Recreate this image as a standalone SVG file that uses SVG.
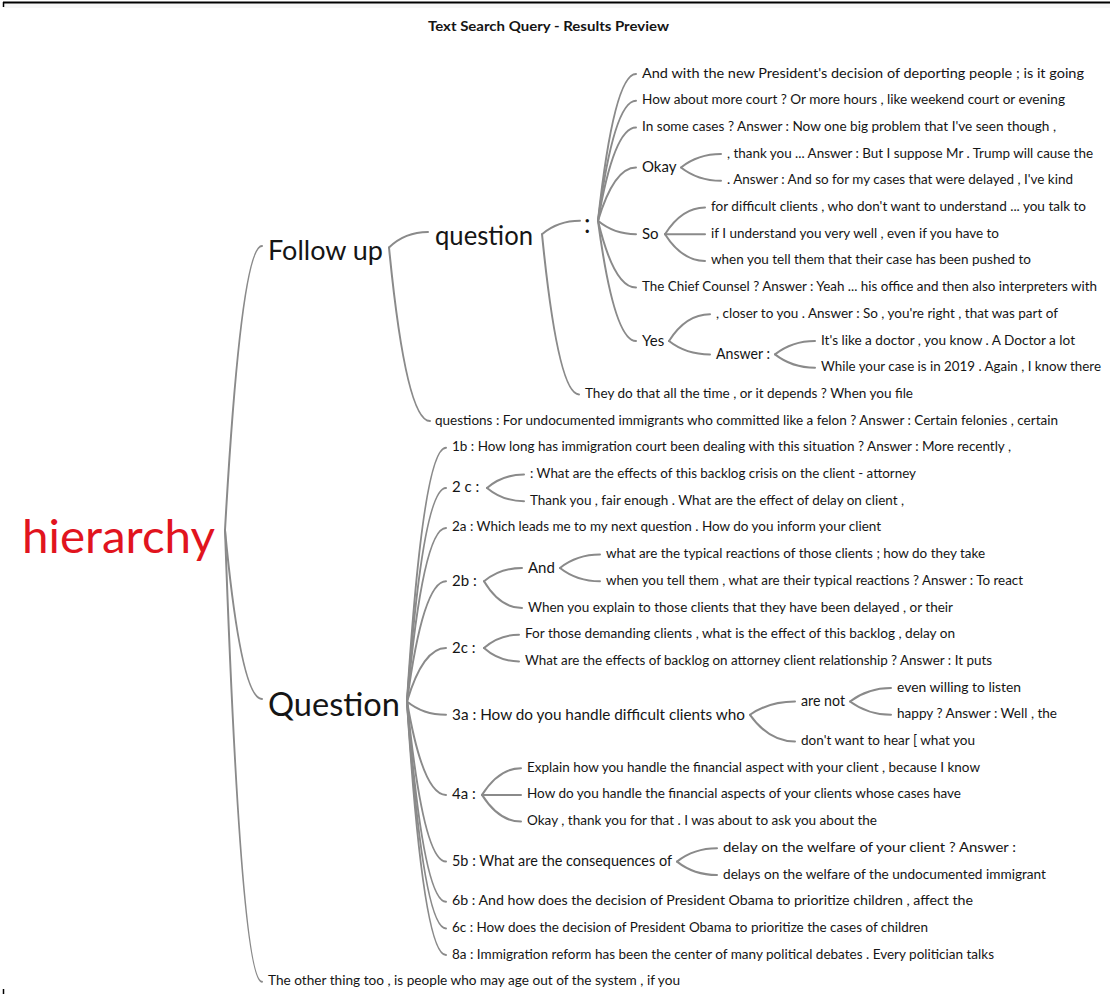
<svg xmlns="http://www.w3.org/2000/svg" width="1110" height="994" viewBox="0 0 1110 994">
<style>
  .c { fill: none; stroke: #8a8a8a; stroke-width: 2; stroke-linecap: round; }
  text { font-family: Lato, "Open Sans", "Noto Sans", sans-serif; fill: #151515; }
  .s { font-size: 13.5px; }
  .m { font-size: 15px; }
  .title { font-size: 13.5px; font-weight: bold; }
  .root { font-size: 46px; fill: #e1141e; }
  .h1 { font-size: 32px; }
  .h2 { font-size: 26px; }
  .h3 { font-size: 27px; }
</style>

<!-- frame -->
<rect x="3" y="3" width="1107" height="5" fill="#f7f7f7"/>
<line x1="3" y1="2.5" x2="1110" y2="2.5" stroke="#000" stroke-width="2"/>
<line x1="3.5" y1="2" x2="3.5" y2="7" stroke="#000" stroke-width="1.5"/>
<line x1="3.5" y1="989" x2="3.5" y2="994" stroke="#000" stroke-width="1.5"/>

<text class="title" x="548.5" y="31" text-anchor="middle" textLength="241" lengthAdjust="spacingAndGlyphs">Text Search Query - Results Preview</text>

<g id="connectors">
  <!-- root -->
  <path class="c" d="M225,530 Q241,246 262,246"/>
  <path class="c" d="M225,530 Q241,699 262,699"/>
  <path class="c" d="M225,530 Q241,981.8 262,981.8"/>
  <!-- Follow up -->
  <path class="c" d="M389,247.5 Q405,232 428,232"/>
  <path class="c" d="M389,247.5 Q406,421.1 430,421.1"/>
  <!-- question -->
  <path class="c" d="M542,234.2 Q558,220.8 580,220.8"/>
  <path class="c" d="M542,234.2 Q558,394.4 579,394.4"/>
  <!-- colon fan -->
  <path class="c" d="M598,220.8 Q614,74 636,74"/>
  <path class="c" d="M598,220.8 Q614,100.7 636,100.7"/>
  <path class="c" d="M598,220.8 Q614,127.4 636,127.4"/>
  <path class="c" d="M598,220.8 Q614,167.5 636,167.5"/>
  <path class="c" d="M598,220.8 Q614,234.2 636,234.2"/>
  <path class="c" d="M598,220.8 Q614,287.6 636,287.6"/>
  <path class="c" d="M598,220.8 Q614,341 636,341"/>
  <!-- Okay -->
  <path class="c" d="M681,167.5 Q698,154.1 721,154.1"/>
  <path class="c" d="M681,167.5 Q698,180.8 721,180.8"/>
  <!-- So -->
  <path class="c" d="M665,234.2 Q682,207.5 705,207.5"/>
  <path class="c" d="M665,234.2 Q682,234.2 705,234.2"/>
  <path class="c" d="M665,234.2 Q682,260.9 705,260.9"/>
  <!-- Yes -->
  <path class="c" d="M669,341 Q686,314.3 710,314.3"/>
  <path class="c" d="M669,341 Q686,354.4 710,354.4"/>
  <!-- Answer : -->
  <path class="c" d="M775,354.4 Q792,341 815,341"/>
  <path class="c" d="M775,354.4 Q792,367.7 815,367.7"/>
  <!-- Question fan -->
  <path class="c" d="M407,701.5 Q423,447.8 446,447.8"/>
  <path class="c" d="M407,701.5 Q423,487.9 446,487.9"/>
  <path class="c" d="M407,701.5 Q423,527.9 446,527.9"/>
  <path class="c" d="M407,701.5 Q423,581.3 446,581.3"/>
  <path class="c" d="M407,701.5 Q423,648 446,648"/>
  <path class="c" d="M407,701.5 Q423,714.8 446,714.8"/>
  <path class="c" d="M407,701.5 Q423,794.9 446,794.9"/>
  <path class="c" d="M407,701.5 Q423,861.6 446,861.6"/>
  <path class="c" d="M407,701.5 Q423,901.7 446,901.7"/>
  <path class="c" d="M407,701.5 Q423,928.4 446,928.4"/>
  <path class="c" d="M407,701.5 Q423,955.1 446,955.1"/>
  <!-- 2 c : -->
  <path class="c" d="M487,487.9 Q503,474.5 524,474.5"/>
  <path class="c" d="M487,487.9 Q503,501.2 524,501.2"/>
  <!-- 2b : -->
  <path class="c" d="M484,581.3 Q500,568 522,568"/>
  <path class="c" d="M484,581.3 Q500,608 522,608"/>
  <!-- And -->
  <path class="c" d="M560,568 Q577,554.6 600,554.6"/>
  <path class="c" d="M560,568 Q577,581.3 600,581.3"/>
  <!-- 2c : -->
  <path class="c" d="M484,648 Q499,634.7 519,634.7"/>
  <path class="c" d="M484,648 Q499,661.4 519,661.4"/>
  <!-- 3a -->
  <path class="c" d="M750,714.8 Q769,701.5 795,701.5"/>
  <path class="c" d="M750,714.8 Q769,741.5 795,741.5"/>
  <!-- are not -->
  <path class="c" d="M850,701.5 Q868,688.1 891,688.1"/>
  <path class="c" d="M850,701.5 Q868,714.8 891,714.8"/>
  <!-- 4a : -->
  <path class="c" d="M482,794.9 Q499,768.2 521,768.2"/>
  <path class="c" d="M482,794.9 Q499,794.9 521,794.9"/>
  <path class="c" d="M482,794.9 Q499,821.6 521,821.6"/>
  <!-- 5b -->
  <path class="c" d="M677,861.6 Q694,848.3 717,848.3"/>
  <path class="c" d="M677,861.6 Q694,875 717,875"/>
</g>

<g id="n-root"><text class="root" x="22" y="553" textLength="193" lengthAdjust="spacingAndGlyphs">hierarchy</text></g>

<g id="n-followup"><text class="h2" x="268" y="259.5" textLength="115" lengthAdjust="spacingAndGlyphs">Follow up</text></g>
<g id="n-question-lower"><text class="h3" x="435" y="245" textLength="98" lengthAdjust="spacingAndGlyphs">question</text></g>
<g id="n-colon"><text class="h2" x="584" y="233">:</text></g>

<g id="n-r0"><text class="s" x="642" y="77.5" textLength="442" lengthAdjust="spacingAndGlyphs">And with the new President's decision of deporting people ; is it going</text></g>
<g id="n-r1"><text class="s" x="642" y="104.2" textLength="423" lengthAdjust="spacingAndGlyphs">How about more court ? Or more hours , like weekend court or evening</text></g>
<g id="n-r2"><text class="s" x="642" y="130.9" textLength="414" lengthAdjust="spacingAndGlyphs">In some cases ? Answer : Now one big problem that I've seen though ,</text></g>
<g id="n-okay"><text class="m" x="642" y="172">Okay</text></g>
<g id="n-r3"><text class="s" x="727" y="157.6" textLength="366" lengthAdjust="spacingAndGlyphs">, thank you ... Answer : But I suppose Mr . Trump will cause the</text></g>
<g id="n-r4"><text class="s" x="727" y="184.3" textLength="346" lengthAdjust="spacingAndGlyphs">. Answer : And so for my cases that were delayed , I've kind</text></g>
<g id="n-so"><text class="m" x="642" y="238.7">So</text></g>
<g id="n-r5"><text class="s" x="711" y="211" textLength="375" lengthAdjust="spacingAndGlyphs">for difficult clients , who don't want to understand ... you talk to</text></g>
<g id="n-r6"><text class="s" x="711" y="237.7" textLength="288" lengthAdjust="spacingAndGlyphs">if I understand you very well , even if you have to</text></g>
<g id="n-r7"><text class="s" x="711" y="264.4" textLength="320" lengthAdjust="spacingAndGlyphs">when you tell them that their case has been pushed to</text></g>
<g id="n-r8"><text class="s" x="642" y="291.1" textLength="455" lengthAdjust="spacingAndGlyphs">The Chief Counsel ? Answer : Yeah ... his office and then also interpreters with</text></g>
<g id="n-yes"><text class="m" x="642" y="345.5">Yes</text></g>
<g id="n-r9"><text class="s" x="716" y="317.8" textLength="342" lengthAdjust="spacingAndGlyphs">, closer to you . Answer : So , you're right , that was part of</text></g>
<g id="n-answer"><text class="m" x="716" y="358.9" textLength="54" lengthAdjust="spacingAndGlyphs">Answer :</text></g>
<g id="n-r10"><text class="s" x="821" y="344.5" textLength="254" lengthAdjust="spacingAndGlyphs">It's like a doctor , you know . A Doctor a lot</text></g>
<g id="n-r11"><text class="s" x="821" y="371.2" textLength="280" lengthAdjust="spacingAndGlyphs">While your case is in 2019 . Again , I know there</text></g>
<g id="n-r12"><text class="s" x="585" y="397.9" textLength="328" lengthAdjust="spacingAndGlyphs">They do that all the time , or it depends ? When you file</text></g>
<g id="n-r13"><text class="s" x="435" y="424.6" textLength="623" lengthAdjust="spacingAndGlyphs">questions : For undocumented immigrants who committed like a felon ? Answer : Certain felonies , certain</text></g>

<g id="n-question"><text class="h1" x="268" y="716" textLength="132" lengthAdjust="spacingAndGlyphs">Question</text></g>

<g id="n-r14"><text class="s" x="452" y="451.3" textLength="559" lengthAdjust="spacingAndGlyphs">1b : How long has immigration court been dealing with this situation ? Answer : More recently ,</text></g>
<g id="n-2c-a"><text class="m" x="452" y="492.4">2 c :</text></g>
<g id="n-r15"><text class="s" x="530" y="478" textLength="386" lengthAdjust="spacingAndGlyphs">: What are the effects of this backlog crisis on the client - attorney</text></g>
<g id="n-r16"><text class="s" x="530" y="504.7" textLength="374" lengthAdjust="spacingAndGlyphs">Thank you , fair enough . What are the effect of delay on client ,</text></g>
<g id="n-r17"><text class="s" x="452" y="531.4" textLength="429" lengthAdjust="spacingAndGlyphs">2a : Which leads me to my next question . How do you inform your client</text></g>
<g id="n-2b"><text class="m" x="452" y="585.8">2b :</text></g>
<g id="n-and"><text class="m" x="528" y="572.5">And</text></g>
<g id="n-r18"><text class="s" x="606" y="558.1" textLength="379" lengthAdjust="spacingAndGlyphs">what are the typical reactions of those clients ; how do they take</text></g>
<g id="n-r19"><text class="s" x="606" y="584.8" textLength="417" lengthAdjust="spacingAndGlyphs">when you tell them , what are their typical reactions ? Answer : To react</text></g>
<g id="n-r20"><text class="s" x="528" y="611.5" textLength="425" lengthAdjust="spacingAndGlyphs">When you explain to those clients that they have been delayed , or their</text></g>
<g id="n-2c-b"><text class="m" x="452" y="652.5">2c :</text></g>
<g id="n-r21"><text class="s" x="525" y="638.2" textLength="430" lengthAdjust="spacingAndGlyphs">For those demanding clients , what is the effect of this backlog , delay on</text></g>
<g id="n-r22"><text class="s" x="525" y="664.9" textLength="467" lengthAdjust="spacingAndGlyphs">What are the effects of backlog on attorney client relationship ? Answer : It puts</text></g>
<g id="n-3a"><text class="m" x="452" y="719.5" textLength="293" lengthAdjust="spacingAndGlyphs">3a : How do you handle difficult clients who</text></g>
<g id="n-arenot"><text class="m" x="801" y="706" textLength="44" lengthAdjust="spacingAndGlyphs">are not</text></g>
<g id="n-r23"><text class="s" x="897" y="691.6" textLength="124" lengthAdjust="spacingAndGlyphs">even willing to listen</text></g>
<g id="n-r24"><text class="s" x="897" y="718.3" textLength="160" lengthAdjust="spacingAndGlyphs">happy ? Answer : Well , the</text></g>
<g id="n-r25"><text class="s" x="801" y="745" textLength="174" lengthAdjust="spacingAndGlyphs">don't want to hear [ what you</text></g>
<g id="n-4a"><text class="m" x="452" y="799.4">4a :</text></g>
<g id="n-r26"><text class="s" x="527" y="771.7" textLength="453" lengthAdjust="spacingAndGlyphs">Explain how you handle the financial aspect with your client , because I know</text></g>
<g id="n-r27"><text class="s" x="527" y="798.4" textLength="434" lengthAdjust="spacingAndGlyphs">How do you handle the financial aspects of your clients whose cases have</text></g>
<g id="n-r28"><text class="s" x="527" y="825.1" textLength="350" lengthAdjust="spacingAndGlyphs">Okay , thank you for that . I was about to ask you about the</text></g>
<g id="n-5b"><text class="m" x="452" y="866.2" textLength="220" lengthAdjust="spacingAndGlyphs">5b : What are the consequences of</text></g>
<g id="n-r29"><text class="s" x="723" y="851.8" textLength="293" lengthAdjust="spacingAndGlyphs">delay on the welfare of your client ? Answer :</text></g>
<g id="n-r30"><text class="s" x="723" y="878.5" textLength="323" lengthAdjust="spacingAndGlyphs">delays on the welfare of the undocumented immigrant</text></g>
<g id="n-r31"><text class="s" x="452" y="905.2" textLength="521" lengthAdjust="spacingAndGlyphs">6b : And how does the decision of President Obama to prioritize children , affect the</text></g>
<g id="n-r32"><text class="s" x="452" y="931.9" textLength="476" lengthAdjust="spacingAndGlyphs">6c : How does the decision of President Obama to prioritize the cases of children</text></g>
<g id="n-r33"><text class="s" x="452" y="958.6" textLength="542" lengthAdjust="spacingAndGlyphs">8a : Immigration reform has been the center of many political debates . Every politician talks</text></g>

<g id="n-r34"><text class="s" x="268" y="985.3" textLength="412" lengthAdjust="spacingAndGlyphs">The other thing too , is people who may age out of the system , if you</text></g>
</svg>
